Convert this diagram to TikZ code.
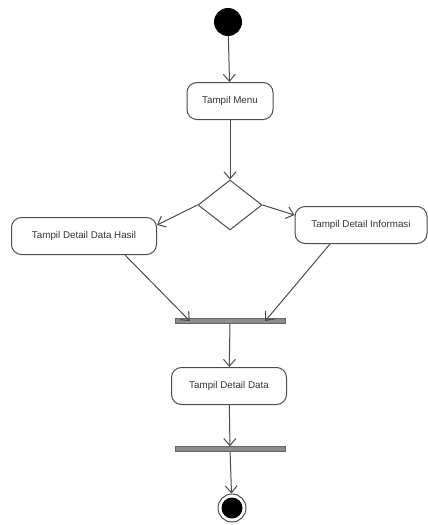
\documentclass[tikz,border=0pt]{standalone}
\usepackage{fontspec}
\setmainfont{Liberation Sans}
\usetikzlibrary{shapes.geometric,arrows.meta}
\begin{document}
\begin{tikzpicture}[x=1pt,y=-1pt,
  act/.style={draw=black!70,line width=1pt,rounded corners=10pt,minimum height=37pt,inner sep=2pt,font=\fontsize{9.8}{11}\selectfont,text=black!80},
  bar/.style={draw=black!60,fill=black!45,minimum height=5pt,minimum width=110pt,inner sep=0pt},
  flow/.style={draw=black!70,line width=1pt,-{Straight Barb[length=7pt,width=12pt]}}]
\useasboundingbox (0,0) rectangle (428,525);
\node[circle,fill=black,minimum size=28pt,inner sep=0pt] (start) at (228,22) {};
\node[act,minimum width=86pt] (menu) at (230,101) {Tampil Menu};
\node[diamond,draw=black!70,line width=1pt,minimum width=64pt,minimum height=50pt,inner sep=0pt] (dec) at (230,205) {};
\node[act,minimum width=145pt] (hasil) at (84,236) {Tampil Detail Data Hasil};
\node[act,minimum width=132pt] (info) at (361,225) {Tampil Detail Informasi};
\node[bar] (bar1) at (230,321) {};
\node[act,minimum width=115pt] (data) at (229,386) {Tampil Detail Data};
\node[bar] (bar2) at (230,449) {};
\node[circle,draw=black!70,line width=1pt,minimum size=28pt,inner sep=0pt] (end) at (232,508) {};
\node[circle,fill=black,minimum size=21pt,inner sep=0pt] (endin) at (end) {};
\draw[flow] (start) -- (menu);
\draw[flow] (menu) -- (dec.north);
\draw[flow] (dec.west) -- ([yshift=11pt]hasil.east);
\draw[flow] (dec.east) -- ([yshift=10pt]info.west);
\draw[flow] ([xshift=41pt]hasil.south) -- ([xshift=15pt]bar1.west);
\draw[flow] ([xshift=-31pt]info.south) -- ([xshift=-20pt]bar1.east);
\draw[flow] (bar1) -- (data);
\draw[flow] (data) -- (bar2);
\draw[flow] (bar2) -- (end);
\end{tikzpicture}
\end{document}
